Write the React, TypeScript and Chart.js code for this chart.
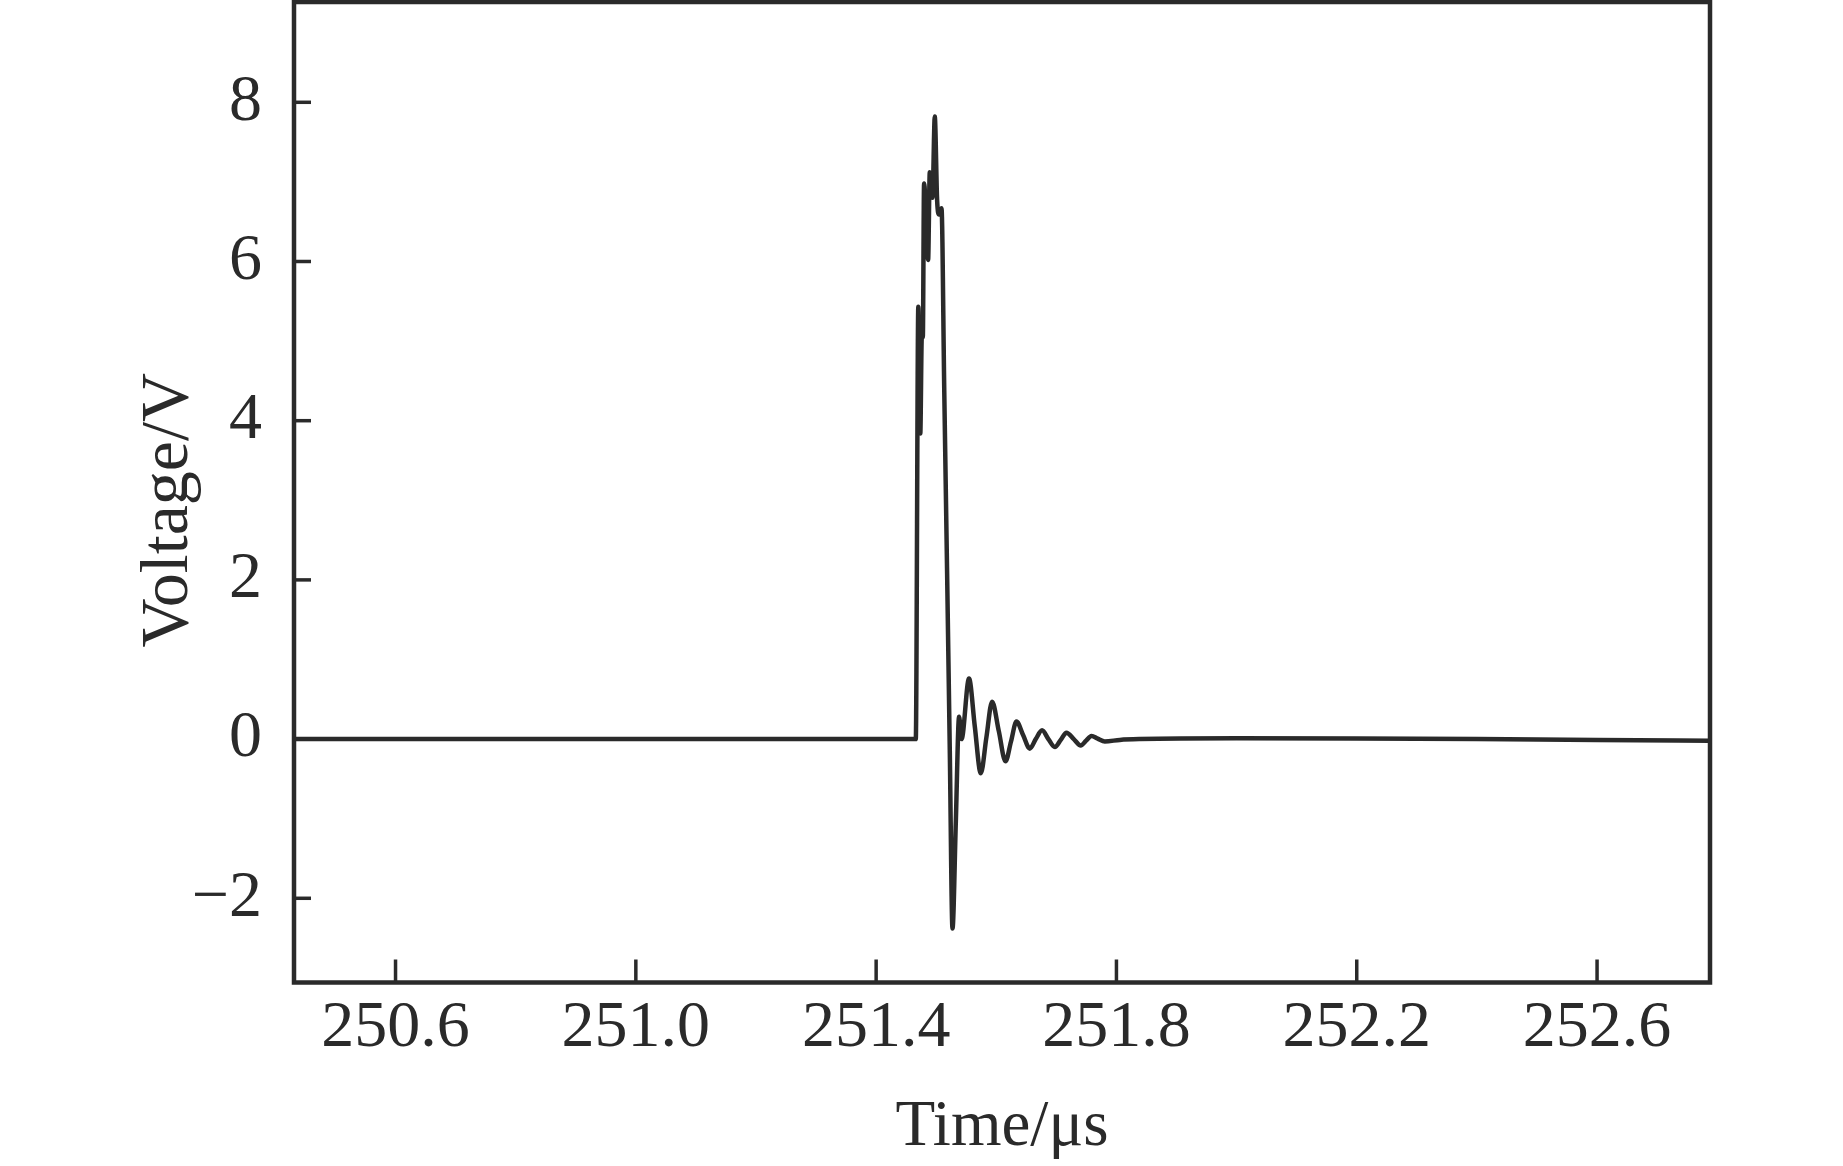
import React, { useEffect, useRef } from "react";
import { Chart, registerables } from "chart.js";

Chart.register(...registerables);

// Waveform samples (time in µs, voltage in V)
const timeUs = [
  250.431, 250.8, 251.2, 251.466, 251.4702, 251.4735, 251.476, 251.4777, 251.4798,
  251.4865, 251.4893, 251.4938, 251.4976, 251.5015, 251.5048, 251.5088, 251.5134,
  251.518, 251.5226, 251.5271, 251.5326, 251.5381, 251.5421, 251.5546, 251.5642,
  251.5742, 251.5835, 251.593, 251.6042, 251.6153, 251.6245, 251.6336, 251.6446,
  251.6558, 251.6657, 251.6762, 251.6867, 251.6974, 251.7073, 251.7168, 251.729,
  251.7406, 251.7495, 251.7585, 251.7689, 251.7806, 251.8056, 251.8388, 252.0,
  252.2, 252.4, 252.6, 252.788,
];
const voltageV = [
  0, 0, 0, 0, 5.43, 3.84, 5.05, 5.05, 6.98,
  6.02, 7.12, 6.8, 7.82, 6.77, 6.59, 6.67, 4.37,
  2.15, -0.15, -2.38, -1.05, 0.28, 0.0, 0.76, 0.16,
  -0.43, 0.02, 0.47, 0.1, -0.28, -0.03, 0.22, 0.05,
  -0.12, 0.0, 0.11, 0.0, -0.1, -0.01, 0.08, 0.0,
  -0.08, -0.02, 0.04, 0.005, -0.03, -0.01, 0.0, 0.01,
  0.008, 0.0, -0.012, -0.02,
];

const xTickValues = [250.6, 251.0, 251.4, 251.8, 252.2, 252.6];
const yTickValues = [-2, 0, 2, 4, 6, 8];
const xRange = [250.431, 252.788];
const yRange = [-3.058, 9.26];

const xTitle = "Time/\u03bcs";
const yTitle = "Voltage/V";

const INK = "#2a2a2a";
const FONT = '"Liberation Serif", "Times New Roman", serif';

const framePlugin = {
  id: "frameAndTitles",
  afterDraw(chart: any) {
    const { ctx, chartArea: a, scales } = chart;
    ctx.save();
    ctx.strokeStyle = INK;
    ctx.lineCap = "butt";
    ctx.lineWidth = 3.5;
    // inward ticks
    for (const t of scales.x.ticks) {
      const px = scales.x.getPixelForValue(t.value);
      ctx.beginPath();
      ctx.moveTo(px, a.bottom);
      ctx.lineTo(px, a.bottom - 23);
      ctx.stroke();
    }
    for (const t of scales.y.ticks) {
      const py = scales.y.getPixelForValue(t.value);
      ctx.beginPath();
      ctx.moveTo(a.left, py);
      ctx.lineTo(a.left + 17, py);
      ctx.stroke();
    }
    // frame
    ctx.lineWidth = 4.5;
    ctx.strokeRect(a.left, a.top, a.right - a.left, a.bottom - a.top);
    // titles
    ctx.fillStyle = INK;
    ctx.textBaseline = "alphabetic";
    ctx.textAlign = "center";
    ctx.font = `65px ${FONT}`;
    ctx.fillText(xTitle, (a.left + a.right) / 2, a.bottom + 162.5);
    ctx.translate(a.left - 107, (a.top + a.bottom) / 2 + 18);
    ctx.rotate(-Math.PI / 2);
    ctx.font = `68px ${FONT}`;
    ctx.fillText(yTitle, 0, 0);
    ctx.restore();
  },
};

export default function App() {
  const ref = useRef<HTMLCanvasElement | null>(null);

  useEffect(() => {
    if (!ref.current) return;
    const points = timeUs.map((t, i) => ({ x: t, y: voltageV[i] }));
    const chart = new Chart(ref.current, {
      type: "line",
      data: {
        datasets: [
          {
            data: points,
            borderColor: INK,
            borderWidth: 4.5,
            pointRadius: 0,
            fill: false,
            tension: 0.4,
            cubicInterpolationMode: "monotone",
            borderJoinStyle: "round",
            borderCapStyle: "round",
          },
        ],
      },
      options: {
        responsive: false,
        animation: false,
        events: [],
        layout: { padding: { left: 0, right: 133, top: 2, bottom: 0 } },
        plugins: {
          legend: { display: false },
          tooltip: { enabled: false },
          title: { display: false },
        },
        scales: {
          x: {
            type: "linear",
            min: xRange[0],
            max: xRange[1],
            afterBuildTicks: (s: any) => {
              s.ticks = xTickValues.map((value) => ({ value }));
            },
            afterFit: (s: any) => {
              s.height = 183.5;
              s.paddingLeft = 0;
              s.paddingRight = 0;
            },
            grid: { display: false, drawTicks: false },
            border: { display: false },
            ticks: {
              autoSkip: false,
              maxRotation: 0,
              minRotation: 0,
              padding: 7,
              color: INK,
              font: { family: FONT, size: 66 },
              callback: (v: any) => Number(v).toFixed(1),
            },
          },
          y: {
            type: "linear",
            min: yRange[0],
            max: yRange[1],
            afterBuildTicks: (s: any) => {
              s.ticks = yTickValues.map((value) => ({ value }));
            },
            afterFit: (s: any) => {
              s.width = 294;
              s.paddingTop = 0;
              s.paddingBottom = 0;
            },
            grid: { display: false, drawTicks: false },
            border: { display: false },
            ticks: {
              autoSkip: false,
              padding: 32,
              color: INK,
              font: { family: FONT, size: 66 },
              callback: (v: any) =>
                Number(v) < 0 ? "\u2212" + Math.abs(Number(v)) : String(v),
            },
          },
        },
      },
      plugins: [framePlugin],
    });
    return () => chart.destroy();
  }, []);

  return (
    <div
      style={{
        position: "absolute",
        left: 0,
        top: 0,
        width: 1843,
        height: 1166,
        background: "#fff",
      }}
    >
      <canvas ref={ref} width={1843} height={1166} />
    </div>
  );
}
